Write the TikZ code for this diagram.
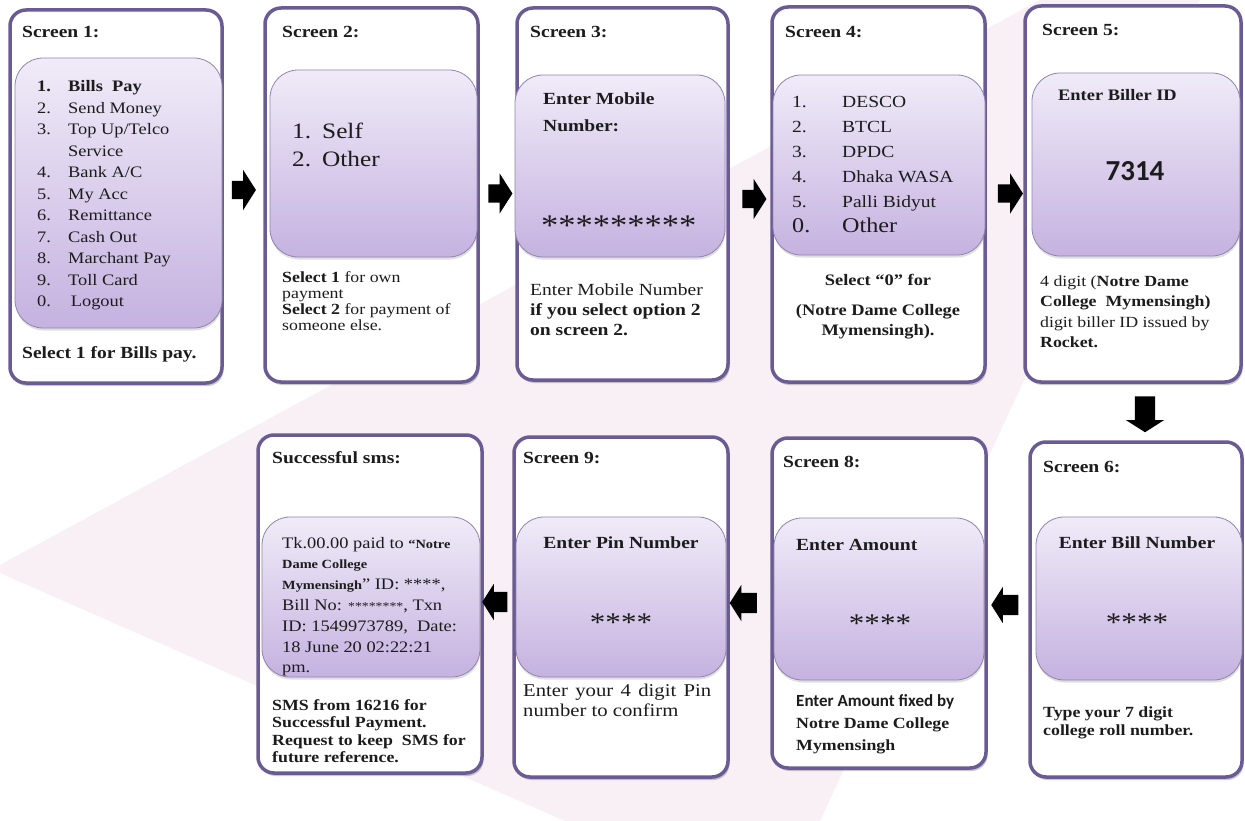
\documentclass[tikz,border=0pt]{standalone}
\usepackage{fontspec}
\setmainfont{Liberation Serif}[FakeStretch=1.15]
\newfontfamily\calib{Carlito}
\usetikzlibrary{shadows,shapes.arrows,calc}
\definecolor{scrb}{HTML}{6B5B95}
\definecolor{paneb}{HTML}{9085AC}
\definecolor{panetop}{HTML}{F0EBF8}
\definecolor{panebot}{HTML}{C5B2E0}
\definecolor{wm}{HTML}{F8F0F4}
\definecolor{txtc}{HTML}{1C1C1C}
\newcommand\myfs[2]{\fontsize{#1}{#2}\selectfont}
\newcommand\nb[2]{\makebox[#1][l]{#2}}
\begin{document}
\begin{tikzpicture}[x=1pt,y=-1pt,
  scr/.style={draw=scrb, line width=3.5pt, rounded corners=16pt, fill=white, inner sep=0pt,
    drop shadow={shadow xshift=1.5pt, shadow yshift=-3pt, opacity=0.35, fill=black!60}},
  pane/.style={draw=paneb, line width=0.8pt, rounded corners=28pt, top color=panetop, bottom color=panebot, inner sep=0pt,
    drop shadow={shadow xshift=0.5pt, shadow yshift=-2.5pt, opacity=0.25, fill=black!50}},
  tx/.style={inner sep=0pt, anchor=base west, text=txtc},
  txc/.style={inner sep=0pt, anchor=base, text=txtc},
  ttl/.style={tx, font=\myfs{17}{20}\bfseries},
  barrow/.style={single arrow, fill=black, draw=none, inner xsep=0pt, inner ysep=9pt,
    minimum height=24pt, minimum width=40pt, single arrow head extend=11pt,
    single arrow tip angle=115, outer sep=0pt}
]
\useasboundingbox (0,0) rectangle (1245,821);
\fill[white] (0,0) rectangle (1245,821);
\fill[wm] (0,565) -- (1040,0) -- (1200,0) -- (820,821) -- (565,821) -- (0,573) -- cycle;

% outer screens
\node[scr, minimum width=212pt, minimum height=373pt] (s1) at (116,196.5) {};
\node[scr, minimum width=213pt, minimum height=374pt] (s2) at (371.5,195) {};
\node[scr, minimum width=211pt, minimum height=372pt] (s3) at (622.5,194) {};
\node[scr, minimum width=213pt, minimum height=375pt] (s4) at (878.5,194.5) {};
\node[scr, minimum width=216pt, minimum height=376pt] (s5) at (1133,194) {};
\node[scr, minimum width=224pt, minimum height=338pt] (sms) at (370,604) {};
\node[scr, minimum width=214pt, minimum height=340pt] (s9) at (621,607) {};
\node[scr, minimum width=214pt, minimum height=330pt] (s8) at (879,603) {};
\node[scr, minimum width=212pt, minimum height=335pt] (s6) at (1136,609.5) {};

% inner panes
\node[pane, minimum width=207pt, minimum height=270pt] (p1) at (118.5,193) {};
\node[pane, minimum width=207pt, minimum height=187pt] (p2) at (373.5,163.5) {};
\node[pane, minimum width=210pt, minimum height=182pt] (p3) at (620,166) {};
\node[pane, minimum width=212pt, minimum height=180pt] (p4) at (879,165) {};
\node[pane, minimum width=208pt, minimum height=183pt] (p5) at (1136,164.5) {};
\node[pane, minimum width=218pt, minimum height=160pt] (psms) at (371,597) {};
\node[pane, minimum width=210pt, minimum height=160pt] (p9) at (621,597) {};
\node[pane, minimum width=210pt, minimum height=162pt] (p8) at (879,599) {};
\node[pane, minimum width=206pt, minimum height=163pt] (p6) at (1139,598.5) {};

% titles
\node[ttl] (t1) at (22,38) {Screen 1:};
\node[ttl] (t2) at (282,38) {Screen 2:};
\node[ttl] (t3) at (530,38) {Screen 3:};
\node[ttl] (t4) at (785,38) {Screen 4:};
\node[ttl] (t5) at (1042,36) {Screen 5:};
\node[ttl] (tsms) at (272,463) {Successful sms:};
\node[ttl] (t9) at (523,463) {Screen 9:};
\node[ttl] (t8) at (783,467) {Screen 8:};
\node[ttl] (t6) at (1043,472) {Screen 6:};

% screen 1
\node[tx] (m1) at (37,92) {\myfs{16}{21.5}\begin{tabular}[t]{@{}l@{}}
\nb{31pt}{\textbf{1.}}\textbf{Bills\ \ Pay}\\
\nb{31pt}{2.}Send Money\\
\nb{31pt}{3.}Top Up/Telco\\
\nb{31pt}{}Service\\
\nb{31pt}{4.}Bank A/C\\
\nb{31pt}{5.}My Acc\\
\nb{31pt}{6.}Remittance\\
\nb{31pt}{7.}Cash Out\\
\nb{31pt}{8.}Marchant Pay\\
\nb{31pt}{9.}Toll Card\\
\nb{31pt}{0.}\,Logout
\end{tabular}};
\node[tx] (b1) at (22,358) {\myfs{17}{20}\bfseries Select 1 for Bills pay.};

% screen 2
\node[tx] (m2) at (292,139) {\myfs{22}{28}\begin{tabular}[t]{@{}l@{}}
\nb{30pt}{1.}Self\\
\nb{30pt}{2.}Other
\end{tabular}};
\node[tx] (b2) at (282,282) {\myfs{15.5}{16.2}\begin{tabular}[t]{@{}l@{}}
\textbf{Select 1} for own\\
payment\\
\textbf{Select 2} for payment of\\
someone else.
\end{tabular}};

% screen 3
\node[tx] (m3) at (543,105) {\myfs{17}{27}\bfseries\begin{tabular}[t]{@{}l@{}}
Enter Mobile\\
Number:
\end{tabular}};
\node[tx] (a3) at (541,236) {\myfs{30}{30}*********};
\node[tx] (b3) at (530,295) {\myfs{17}{20}\begin{tabular}[t]{@{}l@{}}
Enter Mobile Number\\
\textbf{if you select option 2}\\
\textbf{on screen 2.}
\end{tabular}};

% screen 4
\node[tx] (m4) at (792,108) {\myfs{17}{25}\begin{tabular}[t]{@{}l@{}}
\nb{50pt}{1.}DESCO\\
\nb{50pt}{2.}BTCL\\
\nb{50pt}{3.}DPDC\\
\nb{50pt}{4.}Dhaka WASA\\
\nb{50pt}{5.}Palli Bidyut\\
{\myfs{21}{25}\nb{50pt}{0.}Other}
\end{tabular}};
\node[txc] (b4) at (878,285) {\myfs{16}{20}\bfseries\begin{tabular}[t]{@{}c@{}}
Select “0” for\\[10pt]
(Notre Dame College\\
Mymensingh).
\end{tabular}};

% screen 5
\node[tx] (m5) at (1058,101) {\myfs{16}{20}\bfseries Enter Biller ID};
\node[txc] (n5) at (1135,181) {\calib\myfs{29}{30}\bfseries 7314};
\node[tx] (b5) at (1040,287) {\myfs{15.5}{20}\begin{tabular}[t]{@{}l@{}}
4 digit (\textbf{Notre Dame}\\
\textbf{College\ \ Mymensingh)}\\
digit biller ID issued by\\
\textbf{Rocket.}
\end{tabular}};

% successful sms
\node[tx] (msms) at (282,548) {\myfs{16}{20.8}\begin{tabular}[t]{@{}l@{}}
Tk.00.00 paid to {\myfs{12.5}{14}\bfseries “Notre}\\
{\myfs{12.5}{14}\bfseries Dame College}\\
{\myfs{12.5}{14}\bfseries Mymensingh}” ID: ****,\\
Bill No: {\myfs{12}{14}********}, Txn\\
ID: 1549973789,\ \ Date:\\
18 June 20 02:22:21\\
pm.
\end{tabular}};
\node[tx] (bsms) at (272,710) {\myfs{15.5}{17.5}\bfseries\begin{tabular}[t]{@{}l@{}}
SMS from 16216 for\\
Successful Payment.\\
Request to keep\ \ SMS for\\
future reference.
\end{tabular}};

% screen 9
\node[txc] (m9) at (621,548) {\myfs{17}{20}\bfseries Enter Pin Number};
\node[txc] (a9) at (621,631) {\myfs{27}{30}****};
\node[tx] (b9) at (523,696) {\myfs{18}{20}\begin{tabular}[t]{@{}l@{}}
\makebox[188pt][s]{Enter your 4 digit Pin}\\
number to confirm
\end{tabular}};

% screen 8
\node[tx] (m8) at (796,550) {\myfs{17}{20}\bfseries Enter Amount};
\node[txc] (a8) at (880,632) {\myfs{27}{30}****};
\node[tx] (b8) at (796,706) {\myfs{17}{22}\begin{tabular}[t]{@{}l@{}}
{\calib\bfseries Enter Amount fixed by}\\
{\myfs{15.5}{22}\bfseries Notre Dame College}\\
{\myfs{15.5}{22}\bfseries Mymensingh}
\end{tabular}};

% screen 6
\node[txc] (m6) at (1137,548) {\myfs{17}{20}\bfseries Enter Bill Number};
\node[txc] (a6) at (1137,631) {\myfs{27}{30}****};
\node[tx] (b6) at (1043,717) {\myfs{15.5}{18}\bfseries\begin{tabular}[t]{@{}l@{}}
Type your 7 digit\\
college roll number.
\end{tabular}};

% block arrows between the screens
\node[barrow] (a12) at ([shift={(-2.5,-5.75)}]$(s1.east)!0.5!(s2.west)$) {};
\node[barrow] (a23) at ([shift={(0,-1)}]$(s2.east)!0.5!(s3.west)$) {};
\node[barrow] (a34) at ([shift={(1.5,4.75)}]$(s3.east)!0.5!(s4.west)$) {};
\node[barrow, minimum height=25pt] (a45) at ([shift={(2.5,-0.75)}]$(s4.east)!0.5!(s5.west)$) {};
\node[barrow, rotate=-90, minimum height=36pt, inner ysep=10pt, single arrow head extend=9pt, minimum width=38pt] (a56) at ([shift={(10.5,-1)}]$(s5.south)!0.5!(s6.north)$) {};
\node[barrow, rotate=180, minimum height=27pt, inner ysep=10pt, single arrow head extend=8pt, minimum width=36pt] (a68) at ([shift={(0,-1.25)}]$(s6.west)!0.5!(s8.east)$) {};
\node[barrow, rotate=180, minimum height=27pt, inner ysep=10pt, single arrow head extend=8pt, minimum width=36pt] (a89) at ([shift={(-3.5,-2)}]$(s8.west)!0.5!(s9.east)$) {};
\node[barrow, rotate=180, minimum height=25pt, inner ysep=10pt, single arrow head extend=8pt, minimum width=36pt] (a9s) at ([shift={(0,-3.5)}]$(s9.west)!0.5!(sms.east)$) {};
\end{tikzpicture}
\end{document}
